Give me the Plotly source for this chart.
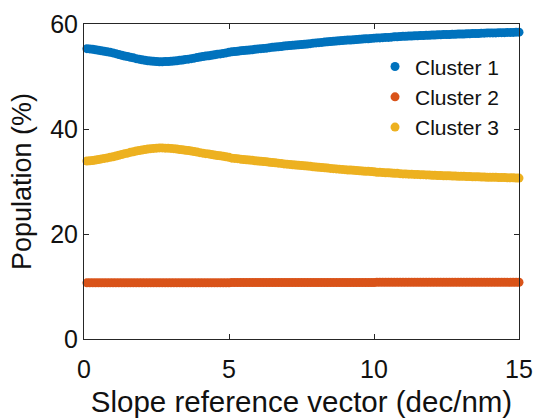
import plotly.graph_objects as go

# x: slope reference vector (dec/nm), sampled every 0.1 from 0.1 to 15.0
x_vals = [round(0.1 * i, 1) for i in range(1, 151)]

cluster1 = [
    55.3, 55.25, 55.2, 55.1, 55.0, 54.9, 54.8, 54.7, 54.6, 54.5,
    54.35, 54.2, 54.05, 53.9, 53.8, 53.65, 53.55, 53.4, 53.3, 53.2,
    53.1, 53.0, 52.95, 52.9, 52.85, 52.8, 52.8, 52.85, 52.85, 52.9,
    52.95, 53.0, 53.1, 53.15, 53.25, 53.3, 53.4, 53.5, 53.6, 53.7,
    53.8, 53.9, 53.95, 54.05, 54.15, 54.25, 54.3, 54.4, 54.5, 54.6,
    54.7, 54.75, 54.8, 54.9, 54.95, 55.0, 55.05, 55.1, 55.2, 55.25,
    55.3, 55.35, 55.4, 55.5, 55.55, 55.6, 55.65, 55.7, 55.8, 55.85,
    55.9, 55.95, 56.0, 56.05, 56.1, 56.15, 56.2, 56.25, 56.35, 56.4,
    56.45, 56.5, 56.55, 56.6, 56.65, 56.7, 56.75, 56.8, 56.85, 56.9,
    56.95, 56.95, 57.0, 57.05, 57.1, 57.15, 57.2, 57.2, 57.25, 57.3,
    57.35, 57.35, 57.4, 57.45, 57.45, 57.5, 57.55, 57.55, 57.6, 57.65,
    57.65, 57.7, 57.7, 57.75, 57.75, 57.8, 57.8, 57.85, 57.85, 57.9,
    57.9, 57.95, 57.95, 58.0, 58.0, 58.0, 58.05, 58.05, 58.1, 58.1,
    58.1, 58.15, 58.15, 58.2, 58.2, 58.2, 58.25, 58.25, 58.3, 58.3,
    58.3, 58.3, 58.35, 58.35, 58.35, 58.4, 58.4, 58.4, 58.45, 58.45,
]

cluster2 = [
    10.7, 10.7, 10.7, 10.7, 10.7, 10.7, 10.7, 10.7, 10.7, 10.7,
    10.7, 10.7, 10.7, 10.7, 10.7, 10.7, 10.7, 10.7, 10.7, 10.7,
    10.7, 10.7, 10.7, 10.7, 10.7, 10.7, 10.7, 10.7, 10.7, 10.7,
    10.7, 10.7, 10.7, 10.7, 10.7, 10.7, 10.7, 10.7, 10.7, 10.7,
    10.7, 10.7, 10.7, 10.7, 10.7, 10.7, 10.7, 10.7, 10.7, 10.7,
    10.75, 10.75, 10.75, 10.75, 10.75, 10.75, 10.75, 10.75, 10.75, 10.75,
    10.75, 10.75, 10.75, 10.75, 10.75, 10.75, 10.75, 10.75, 10.75, 10.75,
    10.75, 10.75, 10.75, 10.75, 10.75, 10.75, 10.75, 10.75, 10.75, 10.75,
    10.75, 10.75, 10.75, 10.75, 10.75, 10.75, 10.75, 10.75, 10.75, 10.75,
    10.75, 10.75, 10.75, 10.75, 10.75, 10.75, 10.75, 10.75, 10.75, 10.75,
    10.8, 10.8, 10.8, 10.8, 10.8, 10.8, 10.8, 10.8, 10.8, 10.8,
    10.8, 10.8, 10.8, 10.8, 10.8, 10.8, 10.8, 10.8, 10.8, 10.8,
    10.8, 10.8, 10.8, 10.8, 10.8, 10.8, 10.8, 10.8, 10.8, 10.8,
    10.8, 10.8, 10.8, 10.8, 10.8, 10.8, 10.8, 10.8, 10.8, 10.8,
    10.8, 10.8, 10.8, 10.8, 10.8, 10.8, 10.8, 10.8, 10.8, 10.8,
]

cluster3 = [
    33.9, 33.95, 34.0, 34.1, 34.2, 34.3, 34.4, 34.5, 34.6, 34.7,
    34.85, 35.0, 35.15, 35.3, 35.4, 35.55, 35.65, 35.8, 35.9, 36.0,
    36.1, 36.2, 36.25, 36.3, 36.35, 36.4, 36.4, 36.35, 36.35, 36.3,
    36.25, 36.2, 36.1, 36.05, 35.95, 35.9, 35.8, 35.7, 35.6, 35.5,
    35.4, 35.3, 35.25, 35.15, 35.05, 34.95, 34.9, 34.8, 34.7, 34.6,
    34.45, 34.4, 34.35, 34.25, 34.2, 34.15, 34.1, 34.05, 33.95, 33.9,
    33.85, 33.8, 33.75, 33.65, 33.6, 33.55, 33.5, 33.45, 33.35, 33.3,
    33.25, 33.2, 33.15, 33.1, 33.05, 33.0, 32.95, 32.9, 32.8, 32.75,
    32.7, 32.65, 32.6, 32.55, 32.5, 32.45, 32.4, 32.35, 32.3, 32.25,
    32.2, 32.2, 32.15, 32.1, 32.05, 32.0, 31.95, 31.95, 31.9, 31.85,
    31.75, 31.75, 31.7, 31.65, 31.65, 31.6, 31.55, 31.55, 31.5, 31.45,
    31.45, 31.4, 31.4, 31.35, 31.35, 31.3, 31.3, 31.25, 31.25, 31.2,
    31.2, 31.15, 31.15, 31.1, 31.1, 31.1, 31.05, 31.05, 31.0, 31.0,
    31.0, 30.95, 30.95, 30.9, 30.9, 30.9, 30.85, 30.85, 30.8, 30.8,
    30.8, 30.8, 30.75, 30.75, 30.75, 30.7, 30.7, 30.7, 30.65, 30.65,
]

series_names = ["Cluster 1", "Cluster 2", "Cluster 3"]
series_values = [cluster1, cluster2, cluster3]
colors = ["#0072BD", "#D95319", "#EDB120"]

x_ticks = [0, 5, 10, 15]
y_ticks = [0, 20, 40, 60]

FONT = "Liberation Sans, Arial, Helvetica, sans-serif"
AX = "#262626"

fig = go.Figure()
for name, vals, col in zip(series_names, series_values, colors):
    fig.add_trace(go.Scatter(
        x=x_vals, y=vals, mode="markers", name=name,
        marker=dict(size=9, color=col, line=dict(width=0)),
        cliponaxis=False,
    ))

axis_common = dict(
    showline=True, linecolor=AX, linewidth=1, mirror="ticks",
    ticks="inside", ticklen=5, tickwidth=1, tickcolor=AX,
    showgrid=False, zeroline=False, automargin=False,
    tickfont=dict(family=FONT, size=25, color="#111111"),
)

fig.update_layout(
    width=537, height=418,
    margin=dict(l=84, r=18, t=24, b=79),
    paper_bgcolor="white", plot_bgcolor="white",
    font=dict(family=FONT, color="#111111"),
    xaxis=dict(range=[0, 15], tickvals=x_ticks, ticklabelstandoff=8,
               title=dict(text="Slope reference vector (dec/nm)",
                          font=dict(family=FONT, size=29.5), standoff=14),
               **axis_common),
    yaxis=dict(range=[0, 60], tickvals=y_ticks,
               title=dict(text="Population (%)",
                          font=dict(family=FONT, size=27), standoff=10),
               **axis_common),
    legend=dict(x=0.669, y=0.929, xanchor="left", yanchor="top",
                bgcolor="rgba(0,0,0,0)", borderwidth=0,
                font=dict(family=FONT, size=21, color="#111111"),
                itemwidth=30),
    showlegend=True,
)

fig.write_html("out.html")
